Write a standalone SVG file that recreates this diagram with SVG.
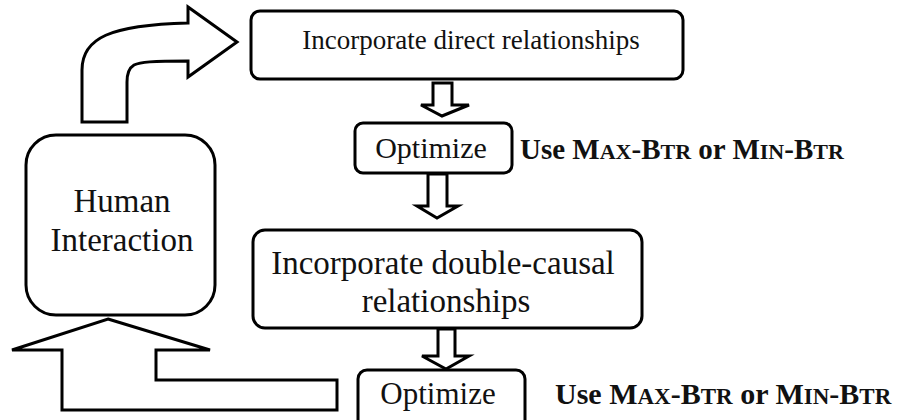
<svg xmlns="http://www.w3.org/2000/svg" width="901" height="420" viewBox="0 0 901 420">
<style>
.box{fill:#fff;stroke:#000;stroke-width:3}
.arr{fill:#fff;stroke:#000;stroke-width:3;stroke-linejoin:miter}
.t{fill:#111;text-anchor:middle}
.b{fill:#111;font-weight:bold}
</style>
<rect width="901" height="420" fill="#fff"/>
<g id="connectors">
<path class="arr" d="M82,122 L82,70 C82,38 110,25 188,23 L188,7 L237,42 L188,77 L188,61 C152,61 140,62 134,65 C129,68 127,74 127,82 L127,122 Z"/>
<path class="arr" d="M433,83 L452,83 L452,105 L469,105 L442,116 L421,105 L433,105 Z"/>
<path class="arr" d="M428,174 L447,174 L447,206 L458,206 L437,218 L417,206 L428,206 Z"/>
<path class="arr" d="M438,329 L455,329 L455,356 L469,356 L446,369 L422,356 L438,356 Z"/>
<path class="arr" d="M108,319 L210,350 L156,350 L156,380 L337,380 L337,410 L62,410 L62,350 L12,350 Z"/>
</g>
<g id="n1">
<rect class="box" x="251" y="11" width="432" height="68" rx="9"/>
<text class="t" x="471" y="49" font-size="27" font-family="Liberation Serif">Incorporate direct relationships</text>
</g>
<g id="n2">
<rect class="box" x="355" y="123" width="157" height="50" rx="8"/>
<text class="t" x="431" y="158" font-size="30" font-family="Liberation Serif">Optimize</text>
</g>
<text id="l1" class="b" x="520" y="159" font-size="29" font-family="Liberation Serif">Use M<tspan font-size="22">AX</tspan>-B<tspan font-size="22">TR</tspan> or M<tspan font-size="22">IN</tspan>-B<tspan font-size="22">TR</tspan></text>
<g id="n3">
<rect class="box" x="253" y="230" width="389" height="98" rx="12"/>
<text class="t" x="443" y="274" font-size="33" font-family="Liberation Serif">Incorporate double-causal</text>
<text class="t" x="446" y="312" font-size="33" font-family="Liberation Serif">relationships</text>
</g>
<g id="n4">
<rect class="box" x="358" y="370" width="167" height="60" rx="9"/>
<text class="t" x="438" y="404" font-size="31" font-family="Liberation Serif">Optimize</text>
</g>
<text id="l2" class="b" x="555" y="404" font-size="30" font-family="Liberation Serif">Use M<tspan font-size="23">AX</tspan>-B<tspan font-size="23">TR</tspan> or M<tspan font-size="23">IN</tspan>-B<tspan font-size="23">TR</tspan></text>
<g id="n5">
<rect class="box" x="26" y="135" width="189" height="180" rx="30"/>
<text class="t" x="122" y="212" font-size="33" font-family="Liberation Serif">Human</text>
<text class="t" x="122" y="251" font-size="33" font-family="Liberation Serif">Interaction</text>
</g>
</svg>
